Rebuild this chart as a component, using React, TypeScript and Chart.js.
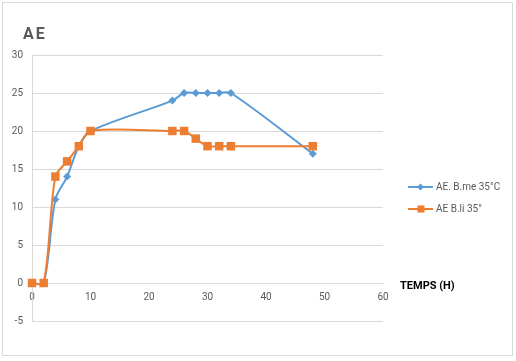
import React, { useEffect, useRef } from "react";
import { Chart, registerables } from "chart.js";

Chart.register(...registerables);

const hours = [0, 2, 4, 6, 8, 10, 24, 26, 28, 30, 32, 34, 48];
const blueValues = [0, 0, 11, 14, 18, 20, 24, 25, 25, 25, 25, 25, 17];
const orangeValues = [0, 0, 14, 16, 18, 20, 20, 20, 19, 18, 18, 18, 18];
const blueLabel = "AE. B.me 35°C";
const orangeLabel = "AE B.li 35°";
const chartTitle = "AE";
const xAxisTitle = "TEMPS (H)";

const BLUE = "#5B9BD5";
const ORANGE = "#ED7D31";
const GRID = "#d9d9d9";
const TEXT = "#595959";
const FONT = "Roboto";

const decor = {
  id: "decor",
  afterDraw(chart: any) {
    const ctx = chart.ctx as CanvasRenderingContext2D;
    ctx.save();
    ctx.strokeStyle = GRID;
    ctx.lineWidth = 1;
    ctx.strokeRect(2.5, 2.5, 510, 353);

    ctx.fillStyle = TEXT;
    ctx.font = `bold 16px ${FONT}`;
    ctx.textBaseline = "alphabetic";
    ctx.textAlign = "left";
    (ctx as any).letterSpacing = "2px";
    ctx.fillText(chartTitle, 23, 39);
    (ctx as any).letterSpacing = "0px";

    ctx.fillStyle = "#000";
    ctx.font = `bold 11px ${FONT}`;
    ctx.fillText(xAxisTitle, 400, 289);

    const items = [
      { label: blueLabel, color: BLUE, y: 187, shape: "diamond" },
      { label: orangeLabel, color: ORANGE, y: 209, shape: "square" },
    ];
    ctx.font = `10px ${FONT}`;
    items.forEach((it) => {
      ctx.strokeStyle = it.color;
      ctx.lineWidth = 2;
      ctx.beginPath();
      ctx.moveTo(408, it.y);
      ctx.lineTo(433, it.y);
      ctx.stroke();
      ctx.fillStyle = it.color;
      if (it.shape === "diamond") {
        ctx.beginPath();
        ctx.moveTo(420.5, it.y - 3.5);
        ctx.lineTo(424, it.y);
        ctx.lineTo(420.5, it.y + 3.5);
        ctx.lineTo(417, it.y);
        ctx.closePath();
        ctx.fill();
      } else {
        ctx.fillRect(417.5, it.y - 3.5, 7, 7);
      }
      ctx.fillStyle = TEXT;
      ctx.textBaseline = "middle";
      ctx.fillText(it.label, 436, it.y);
    });
    ctx.restore();
  },
};

export default function App() {
  const ref = useRef<HTMLCanvasElement>(null);
  useEffect(() => {
    document.body.style.margin = "0";
    const chart = new Chart(ref.current!, {
      type: "line",
      data: {
        datasets: [
          {
            label: blueLabel,
            data: hours.map((h, i) => ({ x: h, y: blueValues[i] })),
            borderColor: BLUE,
            backgroundColor: BLUE,
            borderWidth: 2,
            pointStyle: "rectRot",
            pointRadius: 4,
            pointBorderWidth: 0,
            tension: 0.3,
            order: 2,
            clip: false as any,
          },
          {
            label: orangeLabel,
            data: hours.map((h, i) => ({ x: h, y: orangeValues[i] })),
            borderColor: ORANGE,
            backgroundColor: ORANGE,
            borderWidth: 2,
            pointStyle: "rect",
            pointRadius: 6,
            pointBorderWidth: 0,
            tension: 0.3,
            order: 1,
            clip: false as any,
          },
        ],
      },
      options: {
        responsive: false,
        animation: false,
        layout: { padding: { left: 0, top: 55, right: 133, bottom: 40 } },
        plugins: {
          legend: { display: false },
          title: { display: false },
          tooltip: { enabled: false },
        },
        scales: {
          x: {
            type: "linear",
            position: { y: 0 } as any,
            min: 0,
            max: 60,
            grid: { display: false, drawTicks: false },
            border: { color: GRID, width: 1 },
            ticks: {
              stepSize: 10,
              padding: 8,
              color: TEXT,
              font: { family: FONT, size: 10 },
            },
          },
          y: {
            type: "linear",
            min: -5,
            max: 30,
            afterFit: (s: any) => {
              s.width = 32;
            },
            grid: { color: GRID, drawTicks: false },
            border: { color: GRID, width: 1 },
            ticks: {
              stepSize: 5,
              padding: 9,
              color: TEXT,
              font: { family: FONT, size: 10 },
            },
          },
        },
      },
      plugins: [decor],
    });
    return () => chart.destroy();
  }, []);
  return (
    <div style={{ position: "absolute", left: 0, top: 0, width: 516, height: 361, background: "#fff" }}>
      <canvas ref={ref} width={516} height={361} style={{ width: 516, height: 361 }} />
    </div>
  );
}
